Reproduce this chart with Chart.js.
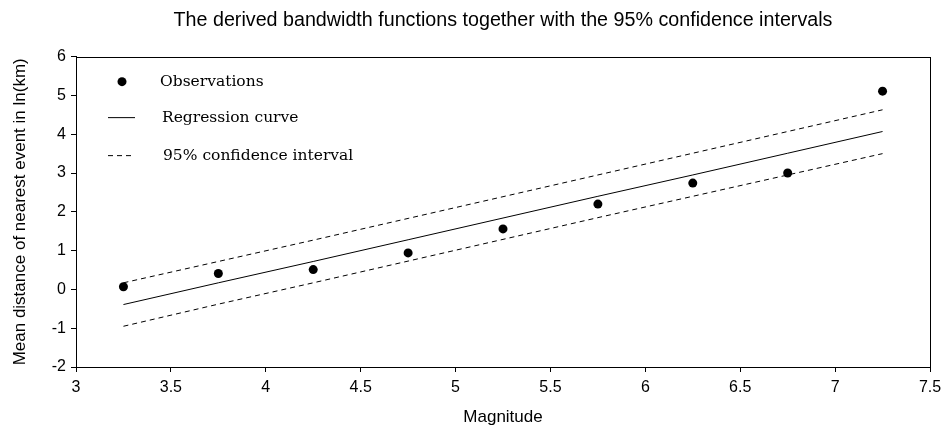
<!DOCTYPE html>
<html>
<head>
<meta charset="utf-8">
<script src="https://cdn.jsdelivr.net/npm/chart.js@4.4.1/dist/chart.umd.min.js"></script>
<style>
html,body{margin:0;padding:0;background:#fff;}
#wrap{width:943px;height:428px;position:relative;}
</style>
</head>
<body>
<div id="wrap"><canvas id="c" width="943" height="428"></canvas></div>
<script>
const magnitudes = [3.25, 3.75, 4.25, 4.75, 5.25, 5.75, 6.25, 6.75, 7.25];
const observations = [0.07, 0.41, 0.51, 0.94, 1.56, 2.20, 2.74, 3.00, 5.11];
const regression = [-0.39, 0.17, 0.72, 1.28, 1.84, 2.40, 2.95, 3.51, 4.07];
const upperCI = [0.17, 0.72, 1.27, 1.83, 2.39, 2.95, 3.51, 4.07, 4.63];
const lowerCI = [-0.95, -0.38, 0.17, 0.73, 1.29, 1.85, 2.40, 2.95, 3.50];
const xTicks = [3, 3.5, 4, 4.5, 5, 5.5, 6, 6.5, 7, 7.5];
const yTicks = [-2, -1, 0, 1, 2, 3, 4, 5, 6];
const legendLabels = ['Observations', 'Regression curve', '95% confidence interval'];

const pts = arr => magnitudes.map((m, i) => ({x: m, y: arr[i]}));
const SANS = '"Liberation Sans", Arial, sans-serif';

const framePlugin = {
  id: 'frame',
  afterDraw(chart) {
    const {ctx, chartArea: a} = chart;
    ctx.save();
    ctx.strokeStyle = '#000';
    ctx.lineWidth = 1;
    ctx.strokeRect(Math.round(a.left) + 0.5, Math.round(a.top) + 0.5, Math.round(a.right - a.left), Math.round(a.bottom - a.top));
    // legend
    const lx = a.left + 32, tx = a.left + 86;
    const rows = [a.top + 25, a.top + 61, a.top + 99];
    ctx.font = '15.5px "DejaVu Serif"';
    ctx.fillStyle = '#000';
    ctx.textBaseline = 'middle';
    ctx.beginPath();
    ctx.arc(a.left + 46, rows[0], 4.5, 0, Math.PI * 2);
    ctx.fill();
    ctx.beginPath();
    ctx.moveTo(lx, rows[1]); ctx.lineTo(lx + 27, rows[1]);
    ctx.stroke();
    ctx.setLineDash([5, 4]);
    ctx.beginPath();
    ctx.moveTo(lx, rows[2]); ctx.lineTo(lx + 27, rows[2]);
    ctx.stroke();
    ctx.setLineDash([]);
    ctx.fillText(legendLabels[0], tx - 2, rows[0]);
    ctx.fillText(legendLabels[1], tx, rows[1]);
    ctx.fillText(legendLabels[2], tx + 1, rows[2]);
    ctx.restore();
  }
};

new Chart(document.getElementById('c'), {
  type: 'scatter',
  data: {
    datasets: [
      {label: legendLabels[0], data: pts(observations), showLine: false, pointRadius: 4.5, pointBackgroundColor: '#000', pointBorderWidth: 0, order: 0},
      {label: legendLabels[1], data: pts(regression), showLine: true, borderColor: '#000', borderWidth: 1, pointRadius: 0, order: 1},
      {label: legendLabels[2], data: pts(upperCI), showLine: true, borderColor: '#000', borderWidth: 1, borderDash: [5, 4], pointRadius: 0, order: 2},
      {label: 'lower', data: pts(lowerCI), showLine: true, borderColor: '#000', borderWidth: 1, borderDash: [5, 4], pointRadius: 0, order: 2}
    ]
  },
  options: {
    responsive: false,
    animation: false,
    layout: {padding: {left: 0, right: 13, top: 0, bottom: 0}},
    plugins: {
      legend: {display: false},
      tooltip: {enabled: false},
      title: {
        display: true,
        fullSize: false,
        text: 'The derived bandwidth functions together with the 95% confidence intervals',
        color: '#000',
        font: {family: SANS, size: 19.7, weight: 'normal'},
        padding: {top: 9, bottom: 24}
      }
    },
    scales: {
      x: {
        type: 'linear', min: 3, max: 7.5,
        afterBuildTicks: s => { s.ticks = xTicks.map(v => ({value: v})); },
        afterFit: s => { s.height = 61; s.paddingLeft = 0; s.paddingRight = 0; },
        grid: {display: true, drawOnChartArea: false, drawTicks: true, tickLength: 5, color: '#000'},
        border: {display: true, color: '#000'},
        ticks: {color: '#000', padding: 6, callback: v => String(v), font: {family: SANS, size: 16}},
        title: {display: true, text: 'Magnitude', color: '#000', padding: {top: 4, bottom: 0}, font: {family: SANS, size: 17}}
      },
      y: {
        type: 'linear', min: -2, max: 6,
        afterBuildTicks: s => { s.ticks = yTicks.map(v => ({value: v})); },
        afterFit: s => { s.width = 76; s.paddingTop = 0; s.paddingBottom = 0; },
        grid: {display: true, drawOnChartArea: false, drawTicks: true, tickLength: 5, color: '#000'},
        border: {display: true, color: '#000'},
        ticks: {color: '#000', padding: 5, callback: v => String(v), font: {family: SANS, size: 16}},
        title: {display: true, text: 'Mean distance of nearest event in ln(km)', color: '#000', padding: {top: 10, bottom: 0}, font: {family: SANS, size: 17}}
      }
    }
  },
  plugins: [framePlugin]
});
</script>
</body>
</html>
